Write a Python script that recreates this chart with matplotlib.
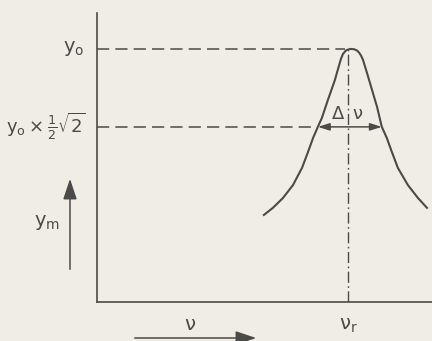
import matplotlib
matplotlib.use("Agg")
import matplotlib.pyplot as plt

plt.rcParams["font.family"] = "DejaVu Sans"
plt.rcParams["mathtext.default"] = "regular"

# resonance curve, amplitude y_m against frequency nu (nu_r = 1, y_o = 1)
nu = [0.665, 0.701, 0.741, 0.781, 0.817, 0.841, 0.861, 0.880, 0.896, 0.920,
      0.948, 0.964, 0.972, 0.980, 0.992, 1.008, 1.024, 1.036, 1.044, 1.052,
      1.060, 1.076, 1.096, 1.116, 1.135, 1.155, 1.175, 1.199, 1.239, 1.279,
      1.315]
y_m = [0.344, 0.372, 0.411, 0.462, 0.530, 0.593, 0.648, 0.692, 0.727, 0.798,
       0.877, 0.933, 0.960, 0.980, 0.994, 1.000, 0.999, 0.994, 0.986, 0.974,
       0.957, 0.905, 0.838, 0.771, 0.692, 0.648, 0.593, 0.530, 0.462, 0.411,
       0.372]
nu_r = 1.0
y_o = 1.0
y_half = 0.692
nu_lo, nu_hi = 0.880, 1.135

ink = "#4a4a48"
paper = "#efede6"

fig = plt.figure(figsize=(4.32, 3.41), dpi=100, facecolor=paper)
ax = fig.add_axes([97 / 432, 39 / 341, 335 / 432, 289 / 341])
ax.set_facecolor(paper)
ax.set_xlim(0, 1.335)
ax.set_ylim(0, 1.142)
for s in ["top", "right"]:
    ax.spines[s].set_visible(False)
for s in ["left", "bottom"]:
    ax.spines[s].set_color(ink)
    ax.spines[s].set_linewidth(1.2)
ax.set_xticks([])
ax.set_yticks([])

ax.plot(nu, y_m, color=ink, lw=1.5, solid_joinstyle="round")

# reference levels
ax.plot([0, nu_r - 0.01], [y_o, y_o], color=ink, lw=1.1, dashes=(8, 4))
ax.plot([0, nu_lo], [y_half, y_half], color=ink, lw=1.1, dashes=(8, 4))
ax.plot([nu_r, nu_r], [0, y_o], color=ink, lw=1.0, dashes=(8, 2.5, 1.2, 2.5))

# bandwidth arrow
ax.annotate("", xy=(nu_lo, y_half), xytext=(nu_hi, y_half),
            arrowprops=dict(arrowstyle="<|-|>,head_length=0.7,head_width=0.22",
                            color=ink, lw=1.1, shrinkA=0, shrinkB=0))
ax.annotate("Δ", xy=(nu_r, y_half), xytext=(-3, 3), textcoords="offset points",
            ha="right", va="bottom", fontsize=13, color=ink)
ax.annotate("ν", xy=(nu_r, y_half), xytext=(3, 3), textcoords="offset points",
            ha="left", va="bottom", fontsize=13, color=ink)

# level labels
ax.annotate("$y_o$", xy=(0, y_o), xytext=(-9, 0), textcoords="offset points",
            ha="right", va="center", fontsize=14, color=ink)
ax.annotate(r"$y_o\times\frac{1}{2}\sqrt{2}$", xy=(0, y_half), xytext=(-8, 0),
            textcoords="offset points", ha="right", va="center", fontsize=13, color=ink)
ax.annotate("$ν_r$", xy=(nu_r, 0), xytext=(0, -17), textcoords="offset points",
            ha="center", va="center", fontsize=14, color=ink)

# axis direction arrows
fig.patches.append(matplotlib.patches.FancyArrowPatch(
    (70, 341 - 272), (70, 341 - 176), transform=None,
    arrowstyle="-|>,head_length=0.9,head_width=0.3", color=ink, lw=1.1,
    mutation_scale=14))
fig.text(47 / 432, 1 - 222 / 341, "$y_m$", ha="center", va="center",
         fontsize=14, color=ink)
fig.patches.append(matplotlib.patches.FancyArrowPatch(
    (132, 341 - 338), (259, 341 - 338), transform=None,
    arrowstyle="-|>,head_length=0.9,head_width=0.3", color=ink, lw=1.1,
    mutation_scale=14))
fig.text(190 / 432, 1 - 324 / 341, "ν", ha="center", va="center",
         fontsize=14, color=ink)

fig.savefig("out.png", dpi=100, facecolor=paper)
